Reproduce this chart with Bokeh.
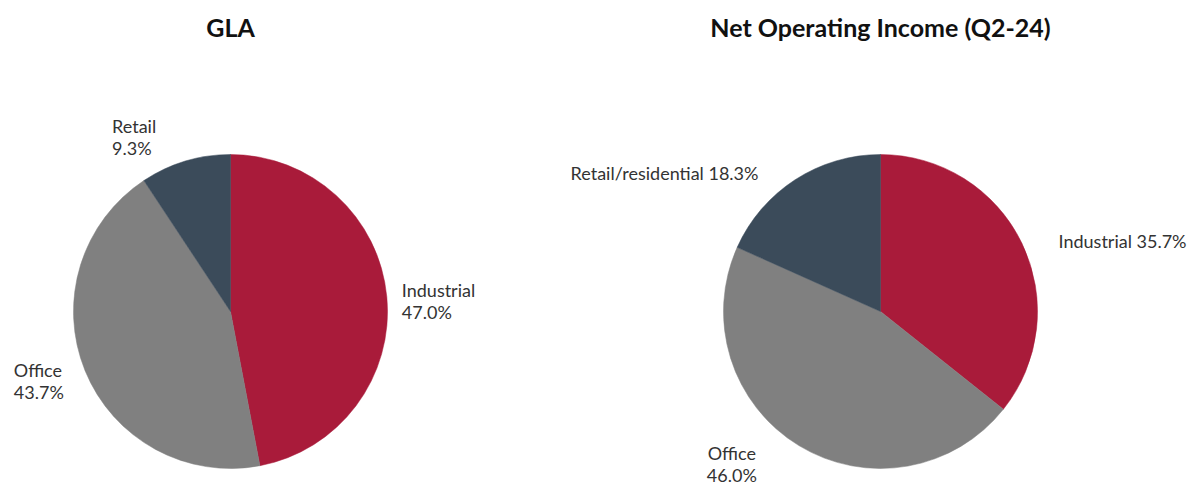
import math
from bokeh.plotting import figure
from bokeh.models import Range1d, ColumnDataSource
from bokeh.core.properties import value
from bokeh.embed import file_html
from bokeh.resources import INLINE

# ---- data ----
gla_cats = ["Industrial", "Office", "Retail"]
gla_vals = [47.0, 43.7, 9.3]
noi_cats = ["Industrial", "Office", "Retail/residential"]
noi_vals = [35.7, 46.0, 18.3]
colors = ["#A91B3A", "#808080", "#3B4B5A"]
titles = ["GLA", "Net Operating Income (Q2-24)"]

# ---- layout ----
W, H = 1199, 485
FONT = "Lato"
pies = [
    dict(cx=230, cy=-311, r=157, cats=gla_cats, vals=gla_vals, title=titles[0],
         sep=["\n", "\n", "\n"],
         nudge=[(-10, -7, "left"), (-48, -1, "left"), (-66, 0, "left")]),
    dict(cx=880, cy=-311, r=157, cats=noi_cats, vals=noi_vals, title=titles[1],
         sep=[" ", "\n", " "],
         nudge=[(14, -9, "left"), (-54, 3, "center"), (-23, -14, "right")]),
]

p = figure(width=W, height=H, output_backend="svg", toolbar_location=None,
           x_range=Range1d(0, W), y_range=Range1d(-H, 0),
           min_border=0, outline_line_color=None)
p.axis.visible = False
p.grid.visible = False

for pie in pies:
    total = sum(pie["vals"])
    starts, ends, lx, ly, txt, aligns = [], [], [], [], [], []
    cum = 0.0
    for cat, v, sep, (dx, dy, al) in zip(pie["cats"], pie["vals"], pie["sep"], pie["nudge"]):
        a0 = math.pi / 2 - 2 * math.pi * cum / total
        cum += v
        a1 = math.pi / 2 - 2 * math.pi * cum / total
        starts.append(a0)
        ends.append(a1)
        mid = (a0 + a1) / 2
        R = pie["r"] * 1.16
        lx.append(pie["cx"] + R * math.cos(mid) + dx)
        ly.append(pie["cy"] + R * math.sin(mid) + dy)
        txt.append(f"{cat}{sep}{v:.1f}%")
        aligns.append(al)
    src = ColumnDataSource(dict(x=[pie["cx"]] * 3, y=[pie["cy"]] * 3, s=starts, e=ends, c=colors))
    p.wedge(x="x", y="y", radius=pie["r"], start_angle="s", end_angle="e",
            direction="clock", fill_color="c", line_color="c", line_width=0.5, source=src)
    lsrc = ColumnDataSource(dict(x=lx, y=ly, t=txt, a=aligns))
    p.text(x="x", y="y", text="t", text_align="a", text_baseline="middle",
           text_font=value(FONT), text_font_size="18px", text_color="#333333",
           text_line_height=1.0, source=lsrc)
    p.text(x=[pie["cx"]], y=[-26], text=[pie["title"]], text_align="center",
           text_baseline="middle", text_font=value(FONT), text_font_style="bold",
           text_font_size="25px", text_color="#111111")

open("out.html", "w").write(file_html(p, INLINE))
